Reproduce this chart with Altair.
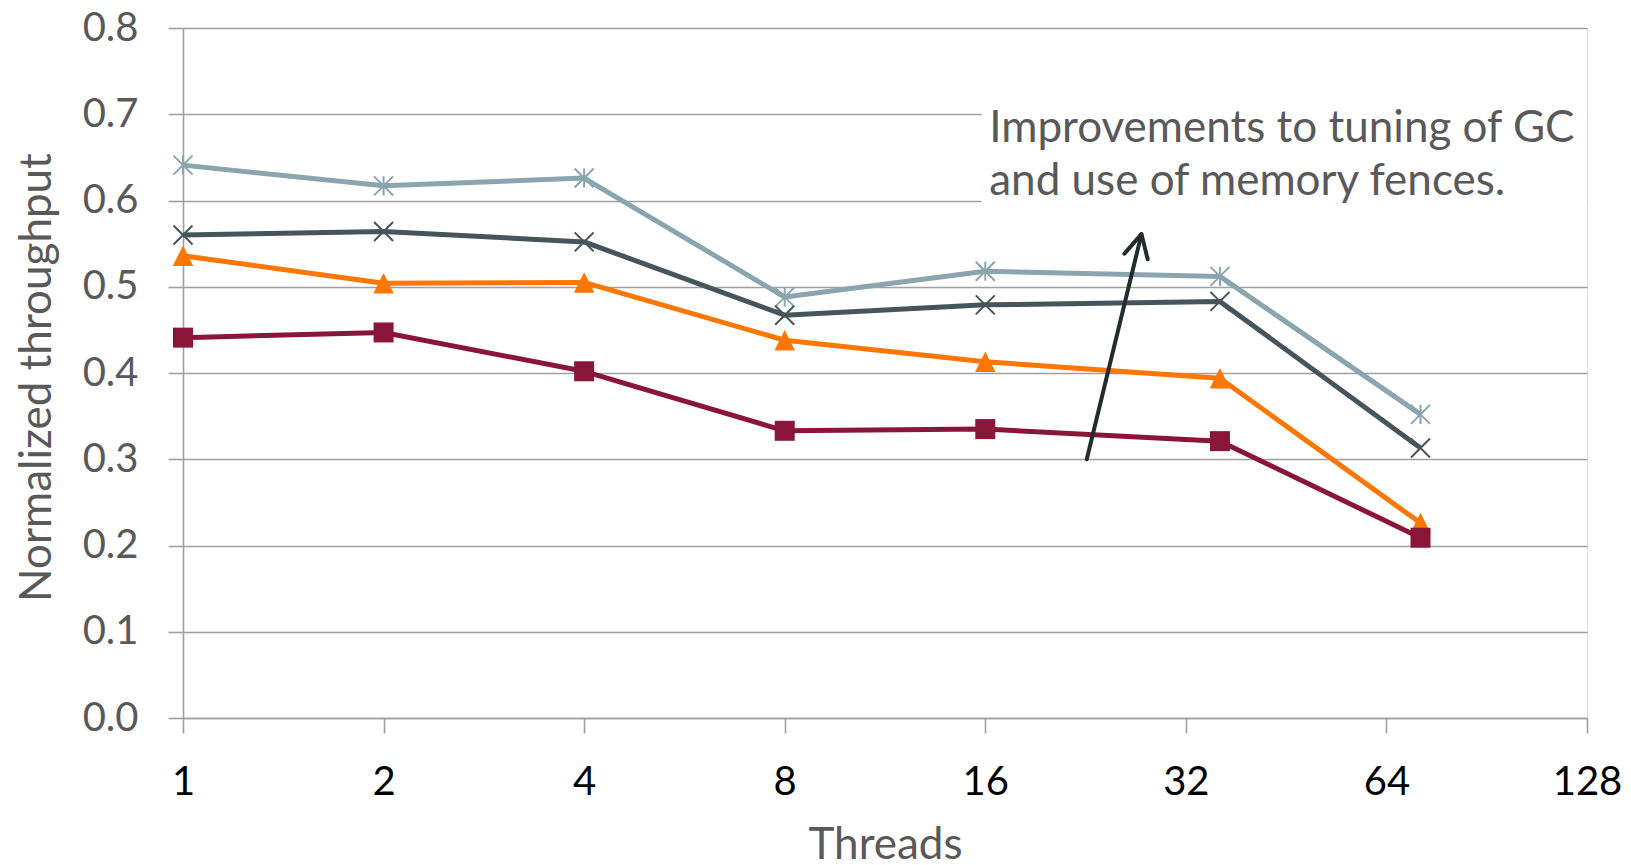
import altair as alt
import pandas as pd

# ---- data ----
threads = [1, 2, 4, 8, 16, 36, 72]
series_names = ["Series 1", "Series 2", "Series 3", "Series 4"]
s1_light = [0.641, 0.617, 0.626, 0.488, 0.518, 0.512, 0.352]
s2_dark = [0.560, 0.564, 0.552, 0.467, 0.479, 0.483, 0.313]
s3_orange = [0.536, 0.504, 0.505, 0.438, 0.413, 0.394, 0.226]
s4_maroon = [0.441, 0.447, 0.402, 0.333, 0.335, 0.321, 0.209]

x_ticks = [1, 2, 4, 8, 16, 32, 64, 128]
y_ticks = [0.0, 0.1, 0.2, 0.3, 0.4, 0.5, 0.6, 0.7, 0.8]

note_text = ["Improvements to tuning of GC\nand use of memory fences."]
note_x = [16.22]
note_y = [0.668]
note_box_x = [15.8]
note_box_x2 = [128]
note_box_y = [0.55]
note_box_y2 = [0.765]
arrow_x = [22.72, 27.45]
arrow_y = [0.300, 0.561]

colors = ["#8BA5AF", "#46555B", "#FF7700", "#8B1539"]
shapes = [
    "M-1,-1L1,1M-1,1L1,-1M0,-1L0,1",   # asterisk
    "M-1,-1L1,1M-1,1L1,-1",            # x
    "M0,-1L1,1L-1,1Z",                 # triangle
    "square",
]
filled = [False, False, True, True]
sizes = [361, 361, 420, 400]

FONT = "Lato"
GRID = "#A0A0A0"
TXT = "#595959"

xscale = alt.Scale(type="log", base=2, domain=[1, 128])
yscale = alt.Scale(domain=[0, 0.8])

x_enc = alt.X(
    "threads:Q",
    scale=xscale,
    axis=alt.Axis(
        values=x_ticks, title="Threads", grid=False, format="d",
        domainColor=GRID, domainWidth=1.6, tickColor=GRID, tickWidth=1.6, tickSize=15,
        labelFont=FONT, labelFontSize=40, labelColor="#000000", labelPadding=29,
        labelFlush=False, labelOverlap=False,
        titleFont=FONT, titleFontSize=44, titleFontWeight="normal", titleColor=TXT,
        titleX=702, titleY=140, titleBaseline="alphabetic", titleAlign="center",
    ),
)
y_enc = alt.Y(
    "value:Q",
    scale=yscale,
    axis=alt.Axis(
        values=y_ticks, format=".1f", title="Normalized throughput", grid=True,
        gridColor=GRID, gridWidth=1.6,
        domainColor=GRID, domainWidth=1.6, tickColor=GRID, tickWidth=1.6, tickSize=15,
        labelFont=FONT, labelFontSize=40, labelColor=TXT, labelPadding=30,
        labelOverlap=False,
        titleFont=FONT, titleFontSize=44, titleFontWeight="normal", titleColor=TXT,
        titleAngle=270, titleX=-133, titleY=349, titleBaseline="alphabetic",
        titleAlign="center",
    ),
)

# white box behind the note
box_df = pd.DataFrame({"threads": note_box_x, "threads2": note_box_x2,
                       "value": note_box_y, "value2": note_box_y2})
box = alt.Chart(box_df).mark_rect(color="white").encode(
    x=x_enc, x2="threads2:Q", y=y_enc, y2="value2:Q"
)

layers = [box]
all_series = [s1_light, s2_dark, s3_orange, s4_maroon]
for name, vals, col, shp, fl, sz in zip(series_names, all_series, colors, shapes, filled, sizes):
    df = pd.DataFrame({"threads": threads, "value": vals, "series": name})
    line = alt.Chart(df).mark_line(color=col, strokeWidth=5, strokeJoin="round").encode(
        x=x_enc, y=y_enc
    )
    if fl:
        pts = alt.Chart(df).mark_point(
            shape=shp, filled=True, color=col, size=sz, opacity=1, strokeWidth=0
        ).encode(x=x_enc, y=y_enc)
    else:
        pts = alt.Chart(df).mark_point(
            shape=shp, filled=False, color=col, size=sz, opacity=1, strokeWidth=2
        ).encode(x=x_enc, y=y_enc)
    layers += [line, pts]

# arrow
arrow_df = pd.DataFrame({"threads": arrow_x, "value": arrow_y, "o": [0, 1]})
arrow = alt.Chart(arrow_df).mark_line(
    color="#222B2D", strokeWidth=4, strokeCap="round"
).encode(x=x_enc, y=y_enc, order="o:Q")
head_df = pd.DataFrame({"threads": arrow_x[1:], "value": arrow_y[1:]})
head = alt.Chart(head_df).mark_point(
    shape="M-0.52,1L0,0L0.52,1", filled=False, color="#222B2D", size=2116,
    strokeWidth=4, strokeCap="round", strokeJoin="round", opacity=1, angle=13.6
).encode(x=x_enc, y=y_enc)

note_df = pd.DataFrame({"threads": note_x, "value": note_y, "label": note_text})
note = alt.Chart(note_df).mark_text(
    align="left", baseline="alphabetic", font=FONT, fontSize=44, color=TXT,
    lineBreak="\n", lineHeight=53
).encode(x=x_enc, y=y_enc, text="label:N")

chart = alt.layer(*layers, arrow, head, note).properties(
    width=1404, height=690,
    autosize=alt.AutoSizeParams(type="none"),
    padding={"left": 175, "top": 20, "right": 36, "bottom": 150},
).configure_view(stroke=None).configure(background="white")

chart.save("out.html", embed_options={"renderer": "svg", "actions": False})
